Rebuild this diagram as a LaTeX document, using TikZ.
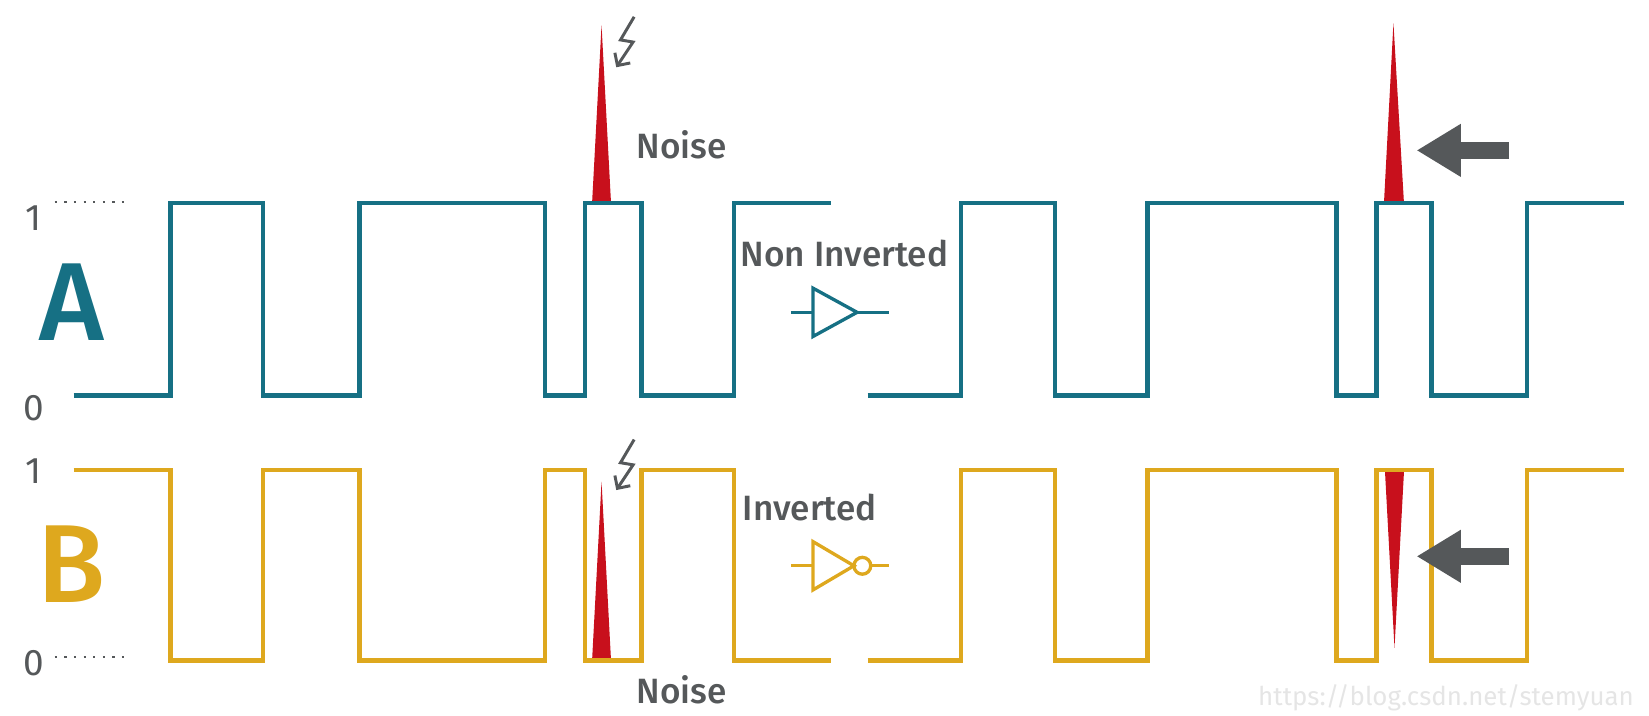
\documentclass[tikz,border=0pt]{standalone}
\usepackage{fontspec}
\setmainfont{Fira Sans}
\newfontfamily\headfont{Fira Sans Medium}
\usetikzlibrary{arrows.meta}
\definecolor{sigTeal}{RGB}{22, 112, 132}
\definecolor{sigGold}{RGB}{222, 168, 30}
\definecolor{noiseRed}{RGB}{200, 16, 28}
\definecolor{labelGray}{RGB}{85, 88, 90}
\begin{document}
\begin{tikzpicture}
    [
        x=0.01cm, y=-0.01cm,
        wave/.style={line width=1.2pt, line join=miter},
        gate/.style={line width=0.9pt},
        spike/.style={fill=noiseRed, draw=none},
        level/.style={text=labelGray, font=\fontsize{10}{10}\selectfont},
        caption/.style={text=labelGray, font=\fontsize{9.5}{10}\selectfont\headfont},
        letter/.style={font=\fontsize{30}{30}\selectfont\headfont},
        bolt/.style={draw=labelGray, line width=0.8pt, -{Straight Barb[length=2.5pt]}},
        pointer/.style={draw=labelGray, line width=4.5pt, -{Triangle[length=12pt, width=13.5pt]}}
    ]
\useasboundingbox (0,0) rectangle (1568,680);

% Levels
\node (one-a) [level] at (32,207) {1};
\node (zero-a) [level] at (32,388) {0};
\node (one-b) [level] at (32,448) {1};
\node (zero-b) [level] at (32,631) {0};
\draw [labelGray, dotted, line width=0.6pt] (52,192) -- (122,192);
\draw [labelGray, dotted, line width=0.6pt] (52,625) -- (122,625);

\node (sig-a) [letter, text=sigTeal] at (68,287) {A};
\node (sig-b) [letter, text=sigGold] at (68,536) {B};

% Noise spikes
\fill [spike] (563,193) -- (572,24) -- (581,193) -- cycle;
\fill [spike] (1316,193) -- (1325,22) -- (1335,193) -- cycle;
\fill [spike] (563,628) -- (572,458) -- (581,628) -- cycle;
\fill [spike] (1317,449) -- (1326,616) -- (1335,449) -- cycle;

% Waveforms
\draw [wave, sigTeal] (70,376) -| (162,193) -| (250,376) -| (342,193) -| (518,376)
    -| (556,193) -| (610,376) -| (698,193) -- (790,193);
\draw [wave, sigTeal] (825,376) -| (914,193) -| (1003,376) -| (1091,193) -| (1271,376)
    -| (1309,193) -| (1361,376) -| (1452,193) -- (1544,193);
\draw [wave, sigGold] (70,447) -| (162,628) -| (250,447) -| (342,628) -| (518,447)
    -| (556,628) -| (610,447) -| (698,628) -- (790,628);
\draw [wave, sigGold] (825,628) -| (914,447) -| (1003,628) -| (1091,447) -| (1271,628)
    -| (1309,447) -| (1361,628) -| (1452,447) -- (1544,447);

% Lightning
\draw [bolt] (603,16) -- (590,38) -- (602,40) -- (586,64);
\draw [bolt] (603,418) -- (590,440) -- (602,442) -- (586,466);

% Labels
\node (noise-a) [caption] at (648,138) {Noise};
\node (noise-b) [caption] at (648,656) {Noise};
\node (buf-label) [caption] at (803,241) {Non Inverted};
\node (inv-label) [caption] at (770,483) {Inverted};

% Gates
\draw [gate, sigTeal] (752,297) -- (773,297);
\draw [gate, sigTeal] (773,274) -- (815,297) -- (773,320) -- cycle;
\draw [gate, sigTeal] (815,297) -- (845,297);
\draw [gate, sigGold] (752,538) -- (773,538);
\draw [gate, sigGold] (773,515) -- (812,538) -- (773,561) -- cycle;
\draw [gate, sigGold] (820,538) circle (8);
\draw [gate, sigGold] (828,538) -- (845,538);

% Pointers
\coordinate (ptr-a-tail) at (1435,143);
\coordinate (ptr-a-tip) at (1347,143);
\coordinate (ptr-b-tail) at (1435,529);
\coordinate (ptr-b-tip) at (1347,529);
\draw [pointer] (ptr-a-tail) -- (ptr-a-tip);
\draw [pointer] (ptr-b-tail) -- (ptr-b-tip);

\node (mark) [text=black!10, font=\fontsize{7}{7}\selectfont, anchor=east] at (1566,664) {https://blog.csdn.net/stemyuan};
\end{tikzpicture}
\end{document}
